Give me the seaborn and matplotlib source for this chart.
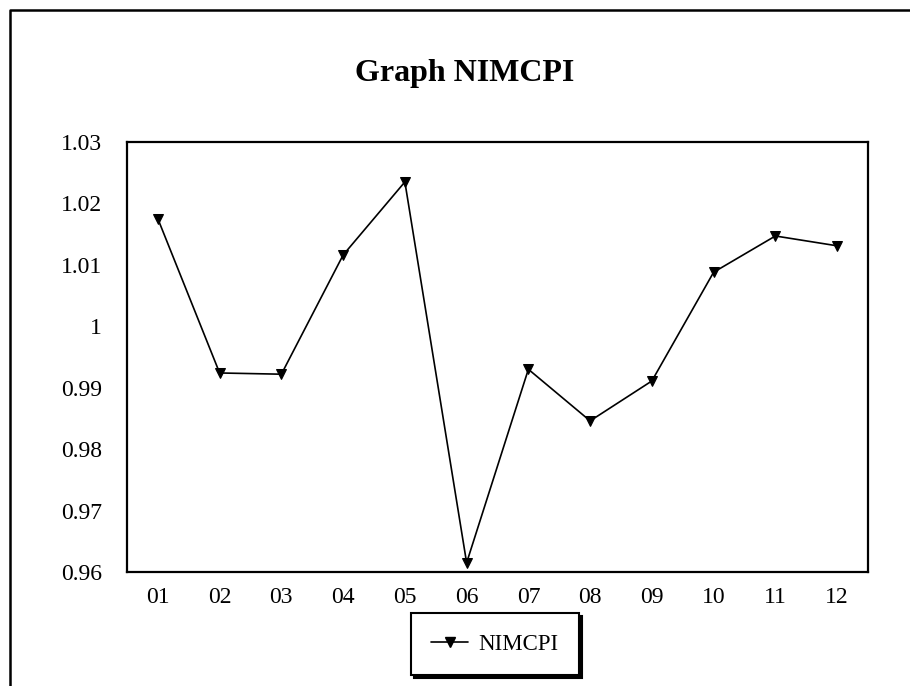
import matplotlib
matplotlib.use("Agg")
import matplotlib.pyplot as plt
from matplotlib.lines import Line2D
import seaborn as sns
import pandas as pd

months = ["01", "02", "03", "04", "05", "06", "07", "08", "09", "10", "11", "12"]
nimcpi = [1.0175, 0.9924, 0.9922, 1.0116, 1.0235, 0.9615,
          0.9930, 0.9846, 0.9911, 1.0088, 1.0147, 1.0131]
y_ticks = [0.96, 0.97, 0.98, 0.99, 1.00, 1.01, 1.02, 1.03]
y_labels = ["0.96", "0.97", "0.98", "0.99", "1", "1.01", "1.02", "1.03"]

df = pd.DataFrame({"month": months, "NIMCPI": nimcpi})

sns.set_style("white")
plt.rcParams["font.family"] = ["Liberation Serif", "DejaVu Serif"]
plt.rcParams["text.color"] = "black"

fig = plt.figure(figsize=(9.10, 6.86), dpi=100)
ax = fig.add_axes([127 / 910, 1 - 572 / 686, (868 - 127) / 910, (572 - 142) / 686])

sns.lineplot(data=df, x="month", y="NIMCPI", ax=ax, color="black",
             linewidth=1.2, marker="v", markersize=6.5, markeredgecolor="black",
             label="NIMCPI", legend=False)

ax.set_xlim(-0.5, len(months) - 0.5)
ax.set_ylim(0.96, 1.03)
ax.set_yticks(y_ticks)
ax.set_yticklabels(y_labels)
ax.set_xlabel("")
ax.set_ylabel("")
ax.tick_params(axis="both", length=0, labelsize=17, colors="black")
ax.tick_params(axis="y", pad=18)
ax.tick_params(axis="x", pad=11)
for s in ax.spines.values():
    s.set_visible(True)
    s.set_color("black")
    s.set_linewidth(1.6)

fig.text(465 / 910, 1 - 73 / 686, "Graph NIMCPI", ha="center", va="center",
         fontsize=23, fontweight="bold", color="black")

# chart area border (left and top edges)
fig.add_artist(Line2D([10 / 910, 10 / 910, 1.0], [0.0, 1 - 10 / 686, 1 - 10 / 686],
                      transform=fig.transFigure, color="black", linewidth=1.8))

handle = Line2D([], [], color="black", linewidth=1.2, marker="v", markersize=6.5)
leg = fig.legend([handle], ["NIMCPI"], loc="center",
                 bbox_to_anchor=(495 / 910, 1 - 644 / 686),
                 frameon=True, fancybox=False, shadow={"color": "black", "alpha": 1.0},
                 fontsize=16.5, handlelength=1.6, borderpad=0.9, handletextpad=0.45,
                 borderaxespad=0, labelcolor="black")
frame = leg.get_frame()
frame.set_edgecolor("black")
frame.set_linewidth(1.5)

fig.savefig("out.png", dpi=100, facecolor="white")
